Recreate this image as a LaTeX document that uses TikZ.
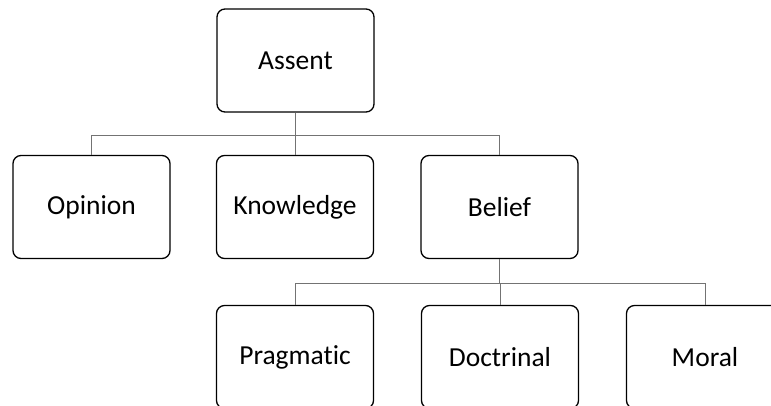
\documentclass[tikz,border=0pt]{standalone}
\usepackage{fontspec}
\setmainfont{Carlito}[Ligatures=NoCommon]
\begin{document}
\begin{tikzpicture}[x=1pt,y=-1pt,
  box/.style={draw=black, line width=1.3pt, rounded corners=8pt, minimum width=157pt, minimum height=103pt, inner sep=0pt, fill=white, font=\fontsize{27.5}{30}\selectfont},
  link/.style={draw=black!55, line width=0.9pt}]
\useasboundingbox (0,0) rectangle (771,405);
\node[box] (assent) at (295.5,60.5) {Assent};
\node[box] (opinion) at (91.5,207) {Opinion};
\node[box] (knowledge) at (295,207) {Knowledge};
\node[box] (belief) at (499.5,207) {Belief};
\node[box] (pragmatic) at (295,357) {Pragmatic};
\node[box] (doctrinal) at (500,357) {Doctrinal};
\node[box] (moral) at (705,357) {Moral};
\coordinate (bus1) at (0,135);
\coordinate (bus2) at (0,283);
\draw[link] (assent.south) -- (assent.south |- bus1);
\draw[link] (opinion.north) |- (belief.north |- bus1) -- (belief.north);
\draw[link] (knowledge.north) -- (knowledge.north |- bus1);
\draw[link] (belief.south) -- (belief.south |- bus2);
\draw[link] (pragmatic.north) |- (moral.north |- bus2) -- (moral.north);
\draw[link] (doctrinal.north) -- (doctrinal.north |- bus2);
\end{tikzpicture}
\end{document}
